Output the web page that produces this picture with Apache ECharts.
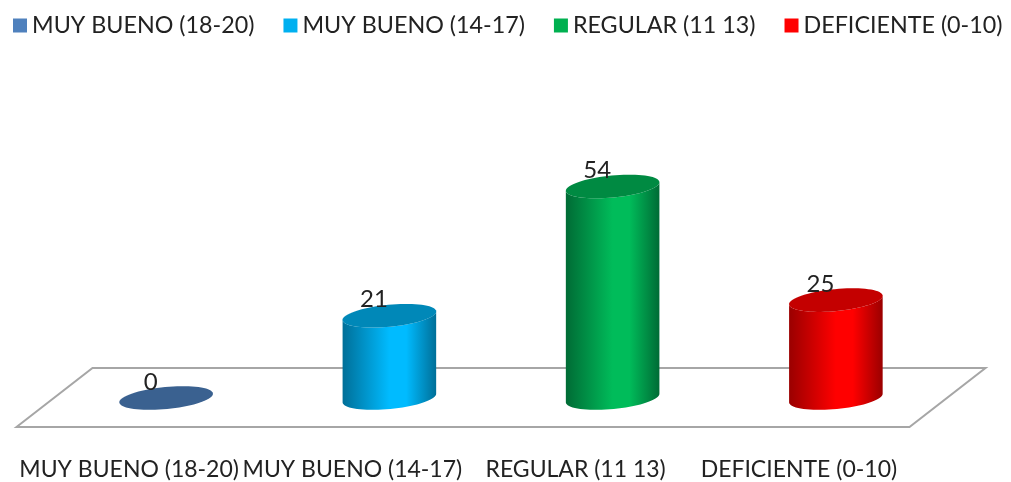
<!DOCTYPE html>
<html><head><meta charset="utf-8">
<style>html,body{margin:0;padding:0;background:#fff}#c{width:1011px;height:482px}</style>
<script src="https://cdn.jsdelivr.net/npm/echarts@6/dist/echarts.min.js"></script>
</head><body><div id="c"></div>
<script>
const categories = ['MUY BUENO (18-20)', 'MUY BUENO (14-17)', 'REGULAR (11 13)', 'DEFICIENTE (0-10)'];
const values = [0, 21, 54, 25];
const legendColors = ['#4F81BD', '#00B0F0', '#00B050', '#FF0000'];
const topColors = ['#3A6190', '#0088B8', '#008A42', '#C40000'];
const edgeColors = ['#2F5380', '#006F98', '#006B35', '#9A0000'];
const midColors = ['#4F81BD', '#00BBFF', '#00BC5A', '#FF0000'];
const FONT = 'Lato, "Open Sans", sans-serif';
const RX = 47, RY = 11, TILT = 5.5 * Math.PI / 180;

function ellipsePt(cx, cy, t) {
  const x = RX * Math.cos(t), y = RY * Math.sin(t);
  return [cx + x * Math.cos(TILT) + y * Math.sin(TILT), cy - x * Math.sin(TILT) + y * Math.cos(TILT)];
}
function ellipsePoly(cx, cy) {
  const p = [];
  for (let i = 0; i < 72; i++) p.push(ellipsePt(cx, cy, i / 72 * 2 * Math.PI));
  return p;
}
function cylinder(i) {
  return function (params, api) {
    const base = api.coord([api.value(0), 0]);
    const top = api.coord([api.value(0), api.value(1)]);
    const body = [];
    for (let k = 0; k <= 36; k++) body.push(ellipsePt(base[0], base[1], k / 36 * Math.PI));
    body.push(ellipsePt(top[0], top[1], Math.PI));
    for (let k = 36; k >= 0; k -= 1) body.push(ellipsePt(top[0], top[1], k / 36 * Math.PI));
    return {
      type: 'group',
      children: [
        { type: 'polygon', shape: { points: body }, style: { fill: {
            type: 'linear', x: 0, y: 0, x2: 1, y2: 0,
            colorStops: [
              { offset: 0, color: edgeColors[i] },
              { offset: 0.5, color: midColors[i] },
              { offset: 0.68, color: midColors[i] },
              { offset: 1, color: edgeColors[i] }
            ] } } },
        { type: 'polygon', shape: { points: ellipsePoly(top[0], top[1]) }, style: { fill: topColors[i] } },
        { type: 'text', x: top[0] - 15.5, y: top[1] - 16, z2: 5, style: {
            text: String(api.value(1)), fill: '#222', font: '24px ' + FONT, align: 'center', verticalAlign: 'middle' } }
      ]
    };
  };
}
function floor(params) {
  const c = params.coordSys, b = c.y + c.height, l = c.x, r = c.x + c.width;
  return { type: 'polygon', silent: true,
    shape: { points: [[l - 38, b + 29], [l + 38, b - 30], [r + 38, b - 30], [r - 38, b + 29]] },
    style: { fill: '#fff', stroke: '#A6A6A6', lineWidth: 2 } };
}
const chart = echarts.init(document.getElementById('c'), null, { renderer: 'canvas' });
chart.setOption({
  animation: false,
  backgroundColor: '#fff',
  legend: {
    data: categories.map((n, i) => ({ name: 'S' + i })),
    left: 8, top: 9, itemWidth: 14, itemHeight: 14, itemGap: 29, icon: 'rect',
    formatter: n => categories[+n.slice(1)],
    textStyle: { fontFamily: FONT, fontSize: 23.3, color: '#222' }
  },
  grid: { left: 54.5, width: 893, top: 163, height: 235 },
  xAxis: { type: 'category', data: categories,
    axisLine: { show: false }, axisTick: { show: false },
    axisLabel: { interval: 0, margin: 60, fontFamily: FONT, fontSize: 23, color: '#222', padding: [0, 74, 0, 0] } },
  yAxis: { type: 'value', min: 0, max: 60, interval: 10, show: false },
  series: [
    { name: 'floor', type: 'custom', data: [[0, 0]], renderItem: floor, clip: false, z: 1, silent: true },
    ...categories.map((c, i) => ({
      name: 'S' + i, type: 'custom', z: 3, clip: false,
      itemStyle: { color: legendColors[i] },
      encode: { x: 0, y: 1 },
      data: [[i, values[i]]],
      renderItem: cylinder(i)
    }))
  ]
});
</script></body></html>
